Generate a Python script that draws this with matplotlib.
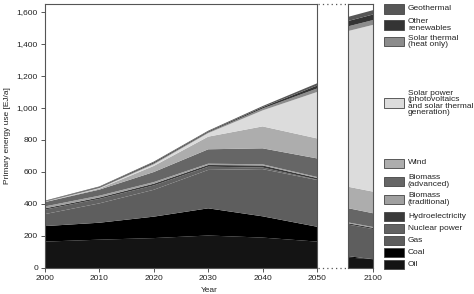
import matplotlib
matplotlib.use("Agg")
import matplotlib.pyplot as plt
from matplotlib.patches import Rectangle
from matplotlib.lines import Line2D
from matplotlib.ticker import FuncFormatter

plt.rcParams['font.family'] = ['Liberation Sans', 'DejaVu Sans']

years = [2000, 2010, 2020, 2030, 2040, 2050, 2100]

# EJ/a per source, bottom to top
oil = [165, 177, 187, 203, 190, 165, 55]
coal = [97, 106, 134, 170, 133, 93, 0]
gas = [75, 121, 168, 240, 295, 292, 188]
nuclear = [28, 28, 27, 20, 10, 3, 0]
hydro = [8, 9, 11, 11, 13, 10, 8]
biomass_trad = [12, 11, 10, 8, 7, 6, 5]
biomass_adv = [27, 38, 63, 90, 100, 116, 86]
wind = [1, 6, 38, 79, 137, 125, 135]
solar_power = [1, 3, 10, 22, 100, 290, 1043]
solar_thermal = [2, 3, 6, 5, 12, 22, 30]
other_ren = [2, 4, 6, 5, 8, 18, 35]
geothermal = [3, 4, 5, 5, 7, 14, 27]

series = [oil, coal, gas, nuclear, hydro, biomass_trad, biomass_adv,
          wind, solar_power, solar_thermal, other_ren, geothermal]
colors = ['#141414', '#000000', '#5e5e5e', '#626262', '#3a3a3a', '#a0a0a0',
          '#666666', '#adadad', '#dcdcdc', '#8c8c8c', '#343434', '#575757']

legend_labels = ['Oil', 'Coal', 'Gas', 'Nuclear power', 'Hydroelectricity',
                 'Biomass\n(traditional)', 'Biomass\n(advanced)', 'Wind',
                 'Solar power\n(photovoltaics\nand solar thermal\ngeneration)',
                 'Solar thermal\n(heat only)', 'Other\nrenewables', 'Geothermal']
# legend swatch centres, pixels from top
legend_y = [264, 252, 240, 228, 216, 199, 181, 163, 103, 41.5, 25, 9]

W, H = 474, 294
fig = plt.figure(figsize=(W / 100, H / 100), dpi=100)

def fx(px):
    return px / W

def fy(py):
    return 1 - py / H

ax = fig.add_axes([fx(45), fy(268), fx(317) - fx(45), fy(4) - fy(268)])
ax2 = fig.add_axes([fx(348.3), fy(268), fx(373.3) - fx(348.3), fy(4) - fy(268)])

for a in (ax, ax2):
    a.stackplot(years, *series, colors=colors, linewidth=0)
    a.set_ylim(0, 1650)
    for s in a.spines.values():
        s.set_color('#555555')
        s.set_linewidth(0.8)
    a.tick_params(labelsize=6, length=3, width=0.7, color='#555555', pad=2,
                  labelcolor='#222222')

ax.set_xlim(2000, 2050)
ax.set_xticks([2000, 2010, 2020, 2030, 2040, 2050])
ax.set_yticks(range(0, 1601, 200))
ax.yaxis.set_major_formatter(FuncFormatter(lambda v, p: f"{int(v):,}"))
ax.set_ylabel('Primary energy use [EJ/a]', fontsize=6, labelpad=4, color='#222222')

ax2.set_xlim(2095.4, 2100)
ax2.set_xticks([2100])
ax2.set_yticks([])

fig.text(fx(209), fy(291), 'Year', fontsize=6, ha='center', va='center',
         color='#222222')

# dotted connectors between the two panels
for py in (4, 268):
    fig.add_artist(Line2D([fx(318), fx(348)], [fy(py), fy(py)],
                          transform=fig.transFigure, color='#555555',
                          linestyle=(0, (1, 2.5)), linewidth=0.9))

for lab, col, py in zip(legend_labels, colors, legend_y):
    fig.add_artist(Rectangle((fx(384), fy(py + 4.5)), fx(20), 9 / H,
                             transform=fig.transFigure, facecolor=col,
                             edgecolor='#444444', linewidth=0.6))
    fig.text(fx(408), fy(py), lab, fontsize=6, ha='left', va='center',
             linespacing=0.88, color='#222222')

fig.savefig('out.png', dpi=100)
